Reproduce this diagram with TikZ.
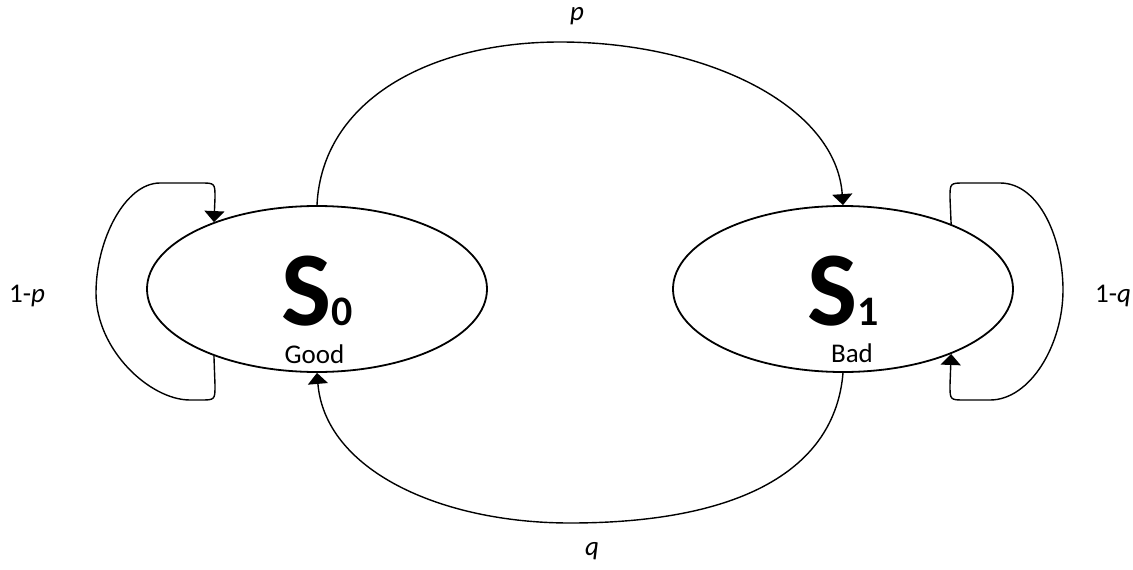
\documentclass[tikz,border=0pt]{standalone}
\usepackage{fontspec}
\setmainfont{Carlito}
\usetikzlibrary{arrows.meta,shapes.geometric}
\begin{document}
\begin{tikzpicture}[x=1pt,y=-1pt,
  state/.style={draw,ellipse,line width=1.8pt,minimum width=340pt,minimum height=166pt,inner sep=0pt},
  conn/.style={line width=1.4pt},
  arr/.style={conn,-{Triangle[width=20pt,length=11pt]}},
  lbl/.style={font=\fontsize{27}{30}\selectfont,inner sep=0pt,anchor=base},
  big/.style={inner sep=0pt,anchor=base,text depth=0pt}]
\useasboundingbox (0,0) rectangle (1133,570);
\node[state] (s0) at (317,289) {};
\node[state] (s1) at (843,289) {};
\node[big] (s0t) at (317.5,325) {{\fontsize{106}{106}\selectfont\bfseries S}{\fontsize{42}{42}\selectfont\bfseries 0}};
\node[big] (s1t) at (843.5,325) {{\fontsize{106}{106}\selectfont\bfseries S}{\fontsize{42}{42}\selectfont\bfseries 1}};
\node[lbl,text height=14pt] (good) at (314.5,363) {Good};
\node[lbl,text height=14pt] (bad) at (852,362) {Bad};
% transitions between states
\draw[arr] (s0.north) .. controls (322,100) and (430,42) .. (560,42)
  .. controls (705,42) and (836,105) .. (s1.north);
\draw[arr] (s1.south) .. controls (835,470) and (740,523) .. (570,523)
  .. controls (440,523) and (325,470) .. (s0.south);
% self loops
\draw[arr] (s0.213) -- (215,385) .. controls (215,400) .. (200,400) -- (190,400)
  .. controls (150,400) and (96,350) .. (96,293)
  .. controls (96,240) and (125,183) .. (160,183) -- (200,183)
  .. controls (215,183) .. (215,198) -- (s0.147);
\draw[arr] (s1.31) -- (950,198) .. controls (950,183) .. (965,183) -- (1000,183)
  .. controls (1040,183) and (1063,240) .. (1063,290)
  .. controls (1063,345) and (1030,400) .. (990,400) -- (965,400)
  .. controls (950,400) .. (950,385) -- (s1.-31);
% labels
\node[lbl] (lp) at (577,20) {\itshape p};
\node[lbl] (lq) at (592,555) {\itshape q};
\node[lbl] (l1p) at (27,302) {1-\textit{p}};
\node[lbl] (l1q) at (1113,302) {1-\textit{q}};
\end{tikzpicture}
\end{document}
